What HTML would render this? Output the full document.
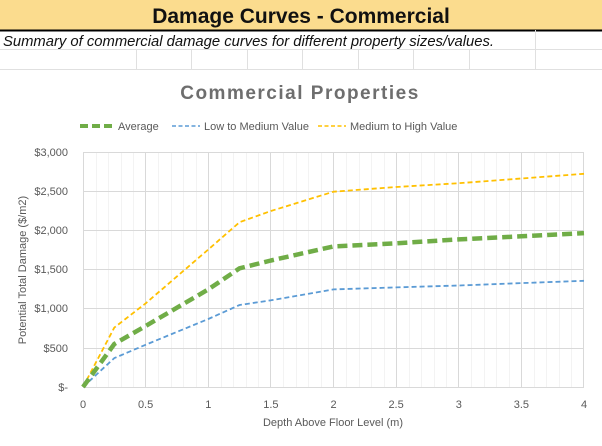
<!DOCTYPE html><html><head><style>
body{margin:0;width:602px;height:441px;background:#fff;overflow:hidden;font-family:"Liberation Sans",sans-serif}
</style></head><body>
<svg width="602" height="441" xmlns="http://www.w3.org/2000/svg" font-family="Liberation Sans, sans-serif">
<rect x="0" y="0" width="602" height="30" fill="#fbdc8e"/>
<line x1="0" y1="30.5" x2="602" y2="30.5" stroke="#000" stroke-width="2"/>
<text x="301" y="23" text-anchor="middle" font-size="21" font-weight="bold" fill="#111">Damage Curves - Commercial</text>
<text x="3" y="46" font-size="14.8" font-style="italic" fill="#111">Summary of commercial damage curves for different property sizes/values.</text>
<g stroke="#e0e0e0" stroke-width="1">
<line x1="0" y1="49.5" x2="602" y2="49.5"/><line x1="0" y1="69.5" x2="602" y2="69.5"/>
<line x1="136.5" y1="49" x2="136.5" y2="70"/><line x1="191.5" y1="49" x2="191.5" y2="70"/><line x1="247.5" y1="49" x2="247.5" y2="70"/><line x1="302.5" y1="49" x2="302.5" y2="70"/><line x1="358.5" y1="49" x2="358.5" y2="70"/><line x1="413.5" y1="49" x2="413.5" y2="70"/><line x1="469.5" y1="49" x2="469.5" y2="70"/><line x1="535.5" y1="30" x2="535.5" y2="70"/>
</g>
<text x="300" y="99" text-anchor="middle" font-size="19" font-weight="bold" fill="#6e6e6e" letter-spacing="1.5">Commercial Properties</text>
<line x1="80" y1="126" x2="112" y2="126" stroke="#70ad47" stroke-width="4" stroke-dasharray="8,4"/>
<text x="118" y="130" font-size="11" fill="#595959">Average</text>
<line x1="172" y1="126" x2="200" y2="126" stroke="#5b9bd5" stroke-width="1.6" stroke-dasharray="4,2.5"/>
<text x="204" y="130" font-size="11" fill="#595959">Low to Medium Value</text>
<line x1="318" y1="126" x2="346" y2="126" stroke="#ffc000" stroke-width="1.6" stroke-dasharray="4,2.5"/>
<text x="350" y="130" font-size="11" fill="#595959">Medium to High Value</text>
<g stroke="#f3f3f3" stroke-width="1" id="minor"></g>
<g stroke="#d9d9d9" stroke-width="1">
<line x1="83" y1="152.5" x2="584" y2="152.5"/><line x1="83" y1="191.5" x2="584" y2="191.5"/><line x1="83" y1="230.5" x2="584" y2="230.5"/><line x1="83" y1="269.5" x2="584" y2="269.5"/><line x1="83" y1="308.5" x2="584" y2="308.5"/><line x1="83" y1="348.5" x2="584" y2="348.5"/><line x1="83" y1="387.5" x2="584" y2="387.5"/>
<line x1="83.5" y1="152" x2="83.5" y2="387"/><line x1="145.5" y1="152" x2="145.5" y2="387"/><line x1="208.5" y1="152" x2="208.5" y2="387"/><line x1="270.5" y1="152" x2="270.5" y2="387"/><line x1="333.5" y1="152" x2="333.5" y2="387"/><line x1="396.5" y1="152" x2="396.5" y2="387"/><line x1="458.5" y1="152" x2="458.5" y2="387"/><line x1="521.5" y1="152" x2="521.5" y2="387"/><line x1="583.5" y1="152" x2="583.5" y2="387"/>
</g>
<g font-size="11" fill="#595959" text-anchor="end">
<text x="68" y="156">$3,000</text><text x="68" y="195">$2,500</text><text x="68" y="234">$2,000</text><text x="68" y="273">$1,500</text><text x="68" y="312">$1,000</text><text x="68" y="352">$500</text><text x="68" y="391">$-</text>
</g>
<g font-size="11" fill="#595959" text-anchor="middle">
<text x="83" y="408">0</text><text x="145.6" y="408">0.5</text><text x="208.3" y="408">1</text><text x="270.9" y="408">1.5</text><text x="333.5" y="408">2</text><text x="396.1" y="408">2.5</text><text x="458.8" y="408">3</text><text x="521.4" y="408">3.5</text><text x="584" y="408">4</text>
<text x="333" y="426">Depth Above Floor Level (m)</text>
</g>
<text transform="translate(26,270) rotate(-90)" font-size="11" fill="#595959" text-anchor="middle">Potential Total Damage ($/m2)</text>
<g fill="none" stroke-linejoin="round">
<polyline stroke="#ffc000" stroke-width="1.8" stroke-dasharray="5,3" points="83,387 114.3,327.6 145.6,303.4 208.3,249.5 239.6,222.2 270.9,211 333.5,191.7 396.1,187 458.8,183.2 521.4,178.5 584,173.8"/>
<polyline stroke="#5b9bd5" stroke-width="1.8" stroke-dasharray="5,3" points="83,387 114.3,358.1 145.6,344.8 208.3,319 239.6,305 270.9,300.3 333.5,289.4 396.1,287.4 458.8,285.5 521.4,283.1 584,280.8"/>
<polyline stroke="#70ad47" stroke-width="4.5" stroke-dasharray="10,5" points="83,387 114.3,344 145.6,326 208.3,289.4 239.6,268.3 270.9,260.5 333.5,246.4 396.1,243.3 458.8,239.4 521.4,236.3 584,233.1"/>
</g>
</svg>
<script>
var g=document.getElementById('minor');
for(var i=1;i<40;i++){if(i%5==0)continue;var x=Math.round(83+12.525*i)+0.5;var l=document.createElementNS('http://www.w3.org/2000/svg','line');l.setAttribute('x1',x);l.setAttribute('x2',x);l.setAttribute('y1',152);l.setAttribute('y2',387);g.appendChild(l);}
</script>
</body></html>
